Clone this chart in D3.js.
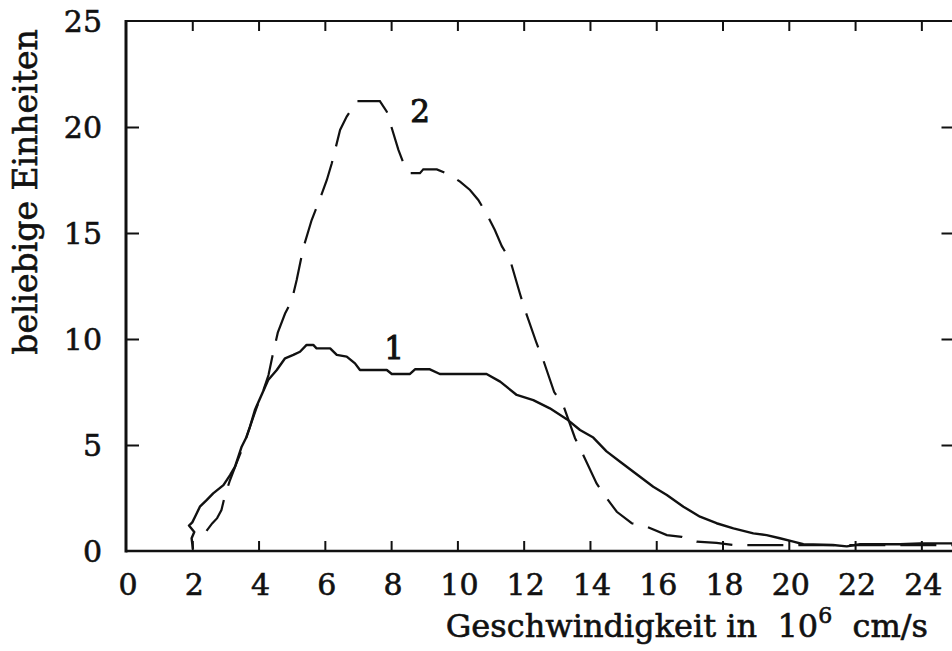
<!DOCTYPE html>
<html>
<head>
<meta charset="utf-8">
<script src="https://cdn.jsdelivr.net/npm/d3@7"></script>
<style>
  html, body { margin: 0; padding: 0; background: #fff; }
  svg { display: block; }
  text { font-family: "DejaVu Serif", serif; fill: #111; stroke: #111; stroke-width: 0.6px; }
</style>
</head>
<body>
<svg id="chart" width="952" height="651"></svg>
<script>
// Velocity axis (10^6 cm/s) and intensity axis (arbitrary units)
const xTicks = [0, 2, 4, 6, 8, 10, 12, 14, 16, 18, 20, 22, 24];
const yTicks = [0, 5, 10, 15, 20, 25];

// Curve 1 (solid)
const curve1X = [2.02, 1.98, 2.06, 1.9, 2.0, 2.08, 2.23, 2.44, 2.63, 2.94, 3.14, 3.29, 3.49, 3.64, 3.74, 3.89, 4.09, 4.29, 4.55, 4.80, 5.05, 5.25, 5.45, 5.65, 5.75, 6.16, 6.36, 6.66, 6.91, 7.06, 7.87, 8.02, 8.57, 8.72, 9.17, 9.47, 10.88, 11.29, 11.79, 12.29, 12.79, 13.30, 13.70, 14.10, 14.50, 14.91, 15.51, 15.91, 16.32, 16.82, 17.32, 17.82, 18.33, 18.93, 19.33, 19.73, 20.14, 20.44, 21.33, 21.75, 22.15, 23.36, 23.96, 25];
const curve1Y = [0.1, 0.6, 0.9, 1.2, 1.35, 1.6, 2.09, 2.41, 2.72, 3.11, 3.58, 3.98, 4.92, 5.39, 5.86, 6.65, 7.36, 8.07, 8.54, 9.09, 9.25, 9.40, 9.72, 9.72, 9.56, 9.56, 9.25, 9.17, 8.85, 8.54, 8.54, 8.35, 8.35, 8.57, 8.57, 8.35, 8.35, 7.99, 7.36, 7.12, 6.73, 6.22, 5.71, 5.35, 4.70, 4.21, 3.50, 3.03, 2.64, 2.09, 1.62, 1.31, 1.07, 0.83, 0.75, 0.60, 0.44, 0.32, 0.28, 0.22, 0.32, 0.32, 0.36, 0.36];

// Curve 2 (dashed)
const curve2X = [2.43, 2.6, 2.75, 2.88, 2.99, 3.14, 3.35, 3.55, 3.75, 3.95, 4.15, 4.30, 4.42, 4.58, 4.80, 5.0, 5.15, 5.35, 5.60, 5.85, 6.06, 6.21, 6.46, 6.66, 6.96, 7.66, 7.87, 8.22, 8.42, 8.57, 8.87, 8.97, 9.38, 9.78, 10.08, 10.38, 10.63, 10.88, 11.13, 11.34, 11.59, 11.89, 12.04, 12.39, 12.59, 12.92, 13.20, 13.55, 13.75, 14.20, 14.50, 14.81, 15.26, 15.71, 16.32, 16.77, 17.22, 17.82, 18.33, 19.94, 25];
const curve2Y = [0.95, 1.3, 1.55, 1.93, 2.64, 3.35, 4.2, 5.0, 5.9, 6.8, 7.6, 8.3, 9.2, 10.3, 11.2, 11.8, 12.78, 14.3, 15.6, 16.6, 17.50, 18.29, 19.86, 20.49, 21.22, 21.22, 20.72, 18.92, 18.1, 17.82, 17.82, 18.0, 18.0, 17.74, 17.42, 17.03, 16.56, 15.9, 15.14, 14.38, 13.73, 12.12, 11.37, 9.80, 9.01, 7.5, 6.85, 5.32, 4.68, 3.19, 2.50, 1.85, 1.31, 1.15, 0.75, 0.67, 0.44, 0.38, 0.28, 0.28, 0.28];

const curveLabels = ["1", "2"];
const xTitle = ["Geschwindigkeit in  10", "6", "  cm/s"];
const yTitle = "beliebige Einheiten";

const svg = d3.select("#chart");

const x = d3.scaleLinear().domain([0, 25]).range([126, 954.5]);
const y = d3.scaleLinear().domain([0, 25]).range([551, 21]);

const ink = "#111";

// Frame
const frame = svg.append("g").attr("stroke", ink).attr("fill", "none");
frame.append("line").attr("x1", x(0)).attr("x2", x(0)).attr("y1", y(25) - 1).attr("y2", y(0) + 1.5).attr("stroke-width", 3);
frame.append("line").attr("x1", x(0)).attr("x2", x(25)).attr("y1", y(0)).attr("y2", y(0)).attr("stroke-width", 2.6);
frame.append("line").attr("x1", x(0)).attr("x2", x(25)).attr("y1", y(25)).attr("y2", y(25)).attr("stroke-width", 2.2);
frame.append("line").attr("x1", x(25)).attr("x2", x(25)).attr("y1", y(25)).attr("y2", y(0)).attr("stroke-width", 2.2);

// Axes: inward ticks, labels drawn separately
const bottomAxis = d3.axisBottom(x).tickValues(xTicks.filter(d => d > 0)).tickSize(-10).tickFormat("");
const topAxis = d3.axisTop(x).tickValues(xTicks.filter(d => d > 0)).tickSize(-10).tickFormat("");
const leftAxis = d3.axisLeft(y).tickValues(yTicks.filter(d => d > 0 && d < 25)).tickSize(-13).tickFormat("");
const rightAxis = d3.axisRight(y).tickValues(yTicks.filter(d => d > 0 && d < 25)).tickSize(-13).tickFormat("");

function styleAxis(g) {
  g.select(".domain").remove();
  g.selectAll(".tick line").attr("stroke", ink).attr("stroke-width", 2);
}
svg.append("g").attr("transform", `translate(0,${y(0)})`).call(bottomAxis).call(styleAxis);
svg.append("g").attr("transform", `translate(0,${y(25)})`).call(topAxis).call(styleAxis);
svg.append("g").attr("transform", `translate(${x(0)},0)`).call(leftAxis).call(styleAxis);
svg.append("g").attr("transform", `translate(${x(25)},0)`).call(rightAxis).call(styleAxis);

// Tick labels
svg.append("g").selectAll("text").data(xTicks).join("text")
  .attr("x", d => x(d) + 2)
  .attr("y", 595)
  .attr("text-anchor", "middle")
  .attr("font-size", 30)
  .text(d => d);

svg.append("g").selectAll("text").data(yTicks).join("text")
  .attr("x", 102)
  .attr("y", d => y(d) + 11)
  .attr("text-anchor", "end")
  .attr("font-size", 30)
  .text(d => d);

// Curves
const line = d3.line().x(d => x(d[0])).y(d => y(d[1])).curve(d3.curveLinear);
const pts1 = curve1X.map((v, i) => [v, curve1Y[i]]);
const pts2 = curve2X.map((v, i) => [v, curve2Y[i]]);

svg.append("path").datum(pts1)
  .attr("d", line).attr("fill", "none").attr("stroke", ink)
  .attr("stroke-width", 2.4).attr("stroke-linejoin", "round");

svg.append("path").datum(pts2)
  .attr("d", line).attr("fill", "none").attr("stroke", ink)
  .attr("stroke-width", 2.2).attr("stroke-dasharray", "36 15");

// Curve labels
svg.append("text").attr("x", 394).attr("y", 359).attr("text-anchor", "middle").attr("font-size", 31).style("stroke-width", "1px").text(curveLabels[0]);
svg.append("text").attr("x", 420).attr("y", 122).attr("text-anchor", "middle").attr("font-size", 31).style("stroke-width", "1px").text(curveLabels[1]);

// Axis titles
const xt = svg.append("text").attr("x", 928).attr("y", 637).attr("text-anchor", "end").attr("font-size", 32).attr("xml:space", "preserve");
xt.append("tspan").text(xTitle[0]);
xt.append("tspan").attr("dy", -14).attr("font-size", 22).text(xTitle[1]);
xt.append("tspan").attr("dy", 14).text(xTitle[2]);

svg.append("text")
  .attr("transform", "translate(37,192) rotate(-90)")
  .attr("text-anchor", "middle")
  .attr("font-size", 33)
  .text(yTitle);
</script>
</body>
</html>
